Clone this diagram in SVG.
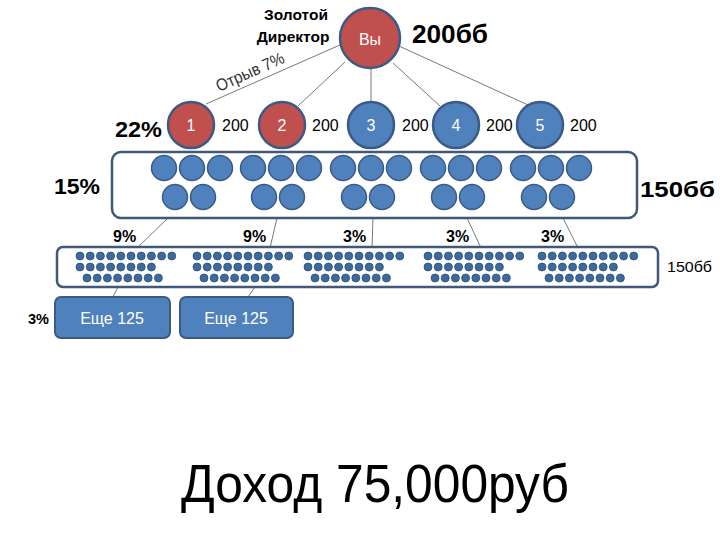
<svg xmlns="http://www.w3.org/2000/svg" width="720" height="540" viewBox="0 0 720 540">
<style>
text{font-family:"Liberation Sans",Arial,sans-serif;fill:#000}
.b{font-weight:bold}
.red{fill:#c0504d;stroke:#3b5a86;stroke-width:2.5}
.blue{fill:#4f81bd;stroke:#3b5a86;stroke-width:2.5}
.mid{fill:#4f81bd;stroke:#3b5a86;stroke-width:1.5}
.dot{fill:#3d6a9c;stroke:#2c4f78;stroke-width:0.8}
.band{fill:#fff;stroke:#41587a;stroke-width:2.5}
.w{fill:#fff;text-anchor:middle}
.ln{stroke:#555;stroke-width:0.8;fill:none}
</style>
<defs>
<g id="trio">
<circle class="mid" cx="-28" cy="0" r="12.5"/><circle class="mid" cx="0" cy="0" r="12.5"/><circle class="mid" cx="28" cy="0" r="12.5"/>
<circle class="mid" cx="-17" cy="29" r="12.5"/><circle class="mid" cx="11" cy="29" r="12.5"/>
</g>
<g id="dots">
<circle class="dot" cx="0" cy="0" r="4"/><circle class="dot" cx="10.2" cy="0" r="4"/><circle class="dot" cx="20.4" cy="0" r="4"/><circle class="dot" cx="30.6" cy="0" r="4"/><circle class="dot" cx="40.8" cy="0" r="4"/><circle class="dot" cx="51" cy="0" r="4"/><circle class="dot" cx="61.2" cy="0" r="4"/><circle class="dot" cx="71.4" cy="0" r="4"/><circle class="dot" cx="81.6" cy="0" r="4"/><circle class="dot" cx="91.8" cy="0" r="4"/>
<circle class="dot" cx="0" cy="11" r="4"/><circle class="dot" cx="10.2" cy="11" r="4"/><circle class="dot" cx="20.4" cy="11" r="4"/><circle class="dot" cx="30.6" cy="11" r="4"/><circle class="dot" cx="40.8" cy="11" r="4"/><circle class="dot" cx="51" cy="11" r="4"/><circle class="dot" cx="61.2" cy="11" r="4"/><circle class="dot" cx="71.4" cy="11" r="4"/>
<circle class="dot" cx="7" cy="22" r="4"/><circle class="dot" cx="17.2" cy="22" r="4"/><circle class="dot" cx="27.4" cy="22" r="4"/><circle class="dot" cx="37.6" cy="22" r="4"/><circle class="dot" cx="47.8" cy="22" r="4"/><circle class="dot" cx="58" cy="22" r="4"/><circle class="dot" cx="68.2" cy="22" r="4"/><circle class="dot" cx="78.4" cy="22" r="4"/>
</g>
</defs>

<g id="connectors">
<line class="ln" x1="340" y1="45" x2="206" y2="104"/>
<line class="ln" x1="345" y1="62" x2="298" y2="106"/>
<line class="ln" x1="371" y1="68" x2="371" y2="102"/>
<line class="ln" x1="393" y1="63" x2="440" y2="106"/>
<line class="ln" x1="399" y1="46" x2="528" y2="105"/>
<line class="ln" x1="168" y1="218" x2="137" y2="248"/>
<line class="ln" x1="277" y1="218" x2="270" y2="248"/>
<line class="ln" x1="373" y1="218" x2="372" y2="248"/>
<line class="ln" x1="467" y1="218" x2="482" y2="250"/>
<line class="ln" x1="563" y1="218" x2="578" y2="248"/>
<line class="ln" x1="118" y1="287" x2="113" y2="297"/>
<line class="ln" x1="255" y1="287" x2="248" y2="297"/>
</g>

<g id="top-labels">
<text class="b" x="296" y="20" font-size="15.5" text-anchor="middle">Золотой</text>
<text class="b" x="293" y="42" font-size="15.5" text-anchor="middle">Директор</text>
<text class="b" x="412" y="43" font-size="25" textLength="76" lengthAdjust="spacingAndGlyphs">200бб</text>
<text x="219" y="92" font-size="17" style="fill:#333" transform="rotate(-24 219 92)" textLength="73" lengthAdjust="spacingAndGlyphs">Отрыв 7%</text>
</g>

<g id="you">
<circle class="red" cx="370" cy="38" r="30"/>
<text class="w" x="370" y="45" font-size="16">Вы</text>
</g>

<g id="level1">
<text class="b" x="115" y="137" font-size="22" textLength="47" lengthAdjust="spacingAndGlyphs">22%</text>
<g id="n1"><circle class="red" cx="191" cy="125" r="23"/><text class="w" x="191" y="131" font-size="16">1</text></g>
<text x="222" y="131" font-size="16">200</text>
<g id="n2"><circle class="red" cx="282" cy="125" r="23"/><text class="w" x="282" y="131" font-size="16">2</text></g>
<text x="312" y="131" font-size="16">200</text>
<g id="n3"><circle class="blue" cx="371" cy="125" r="23"/><text class="w" x="371" y="131" font-size="16">3</text></g>
<text x="402" y="131" font-size="16">200</text>
<g id="n4"><circle class="blue" cx="456" cy="125" r="23"/><text class="w" x="456" y="131" font-size="16">4</text></g>
<text x="486" y="131" font-size="16">200</text>
<g id="n5"><circle class="blue" cx="540" cy="125" r="23"/><text class="w" x="540" y="131" font-size="16">5</text></g>
<text x="570" y="131" font-size="16">200</text>
</g>

<g id="level2">
<rect class="band" x="112" y="152" width="525" height="66" rx="9"/>
<use href="#trio" x="192" y="168"/>
<use href="#trio" x="281" y="168"/>
<use href="#trio" x="371" y="168"/>
<use href="#trio" x="461" y="168"/>
<use href="#trio" x="551" y="168"/>
<text class="b" x="54" y="194" font-size="22" textLength="46" lengthAdjust="spacingAndGlyphs">15%</text>
<text class="b" x="640" y="197" font-size="22" textLength="75" lengthAdjust="spacingAndGlyphs">150бб</text>
</g>

<g id="level3">
<text class="b" x="113" y="242" font-size="16">9%</text>
<text class="b" x="243" y="242" font-size="16">9%</text>
<text class="b" x="343" y="242" font-size="16">3%</text>
<text class="b" x="446" y="242" font-size="16">3%</text>
<text class="b" x="541" y="242" font-size="16">3%</text>
<rect class="band" x="57" y="247" width="601" height="40" rx="6"/>
<use href="#dots" x="80" y="256"/>
<use href="#dots" x="197" y="256"/>
<use href="#dots" x="308" y="256"/>
<use href="#dots" x="428" y="256"/>
<use href="#dots" x="542" y="256"/>
<text x="667" y="272" font-size="15" textLength="45" lengthAdjust="spacingAndGlyphs">150бб</text>
</g>

<g id="level4">
<text class="b" x="28" y="324" font-size="14.5">3%</text>
<g id="more1"><rect class="blue" x="55" y="297" width="115" height="41" rx="6" style="stroke-width:2"/><text class="w" x="112" y="324" font-size="16">Еще 125</text></g>
<g id="more2"><rect class="blue" x="180" y="297" width="113" height="41" rx="6" style="stroke-width:2"/><text class="w" x="236" y="324" font-size="16">Еще 125</text></g>
</g>

<g id="income">
<text x="181" y="502" font-size="54" textLength="388" lengthAdjust="spacingAndGlyphs">Доход 75,000руб</text>
</g>
</svg>
